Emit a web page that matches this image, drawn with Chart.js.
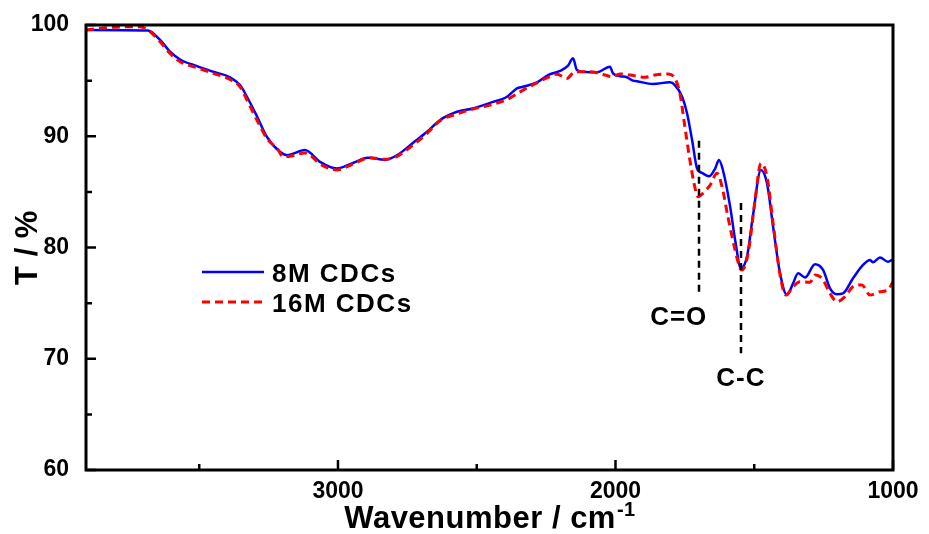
<!DOCTYPE html>
<html>
<head>
<meta charset="utf-8">
<title>FTIR - CDCs</title>
<script src="https://cdn.jsdelivr.net/npm/chart.js@4.4.1/dist/chart.umd.min.js"></script>
<style>
  html, body { margin: 0; padding: 0; background: #fff; }
  #ftirChart { display: block; }
</style>
</head>
<body>
<canvas id="ftirChart" width="929" height="534"></canvas>
<script>
  // Spectrum data: wavenumber (cm-1) and transmittance (%)
  const wn8M = [3908, 3685, 3641, 3605, 3569, 3508, 3450, 3389, 3353, 3328,
    3292, 3256, 3209, 3184, 3119, 3065, 3004, 2946, 2892, 2831,
    2787, 2730, 2679, 2632, 2571, 2514, 2452, 2391, 2355, 2333,
    2283, 2243, 2200, 2171, 2153, 2139, 2117, 2067, 2020, 2009,
    1984, 1959, 1937, 1923, 1865, 1804, 1786, 1760, 1742, 1724,
    1706, 1688, 1663, 1641, 1627, 1613, 1587, 1569, 1548, 1526,
    1505, 1476, 1454, 1432, 1407, 1382, 1360, 1342, 1317, 1281,
    1252, 1227, 1202, 1180, 1144, 1108, 1083, 1072, 1047, 1018, 1000];
  const t8M = [99.55, 99.5, 98.65, 97.6, 96.9, 96.3, 95.8, 95.3, 94.6, 93.55,
    91.8, 89.95, 88.6, 88.3, 88.76, 87.7, 87.1, 87.6, 88.07, 87.87,
    88.3, 89.4, 90.4, 91.46, 92.2, 92.5, 93.0, 93.55, 94.3, 94.45,
    94.85, 95.5, 95.87, 96.35, 97.0, 95.95, 95.8, 95.75, 96.25, 95.65,
    95.4, 95.3, 95.0, 94.95, 94.7, 94.85, 94.6, 93.55, 92.05, 89.66,
    87.1, 86.7, 86.4, 87.1, 87.87, 86.97, 83.7, 80.7, 78.13, 79.2,
    82.8, 86.97, 85.77, 81.87, 77.68, 75.73, 76.78, 77.68, 77.3, 78.5,
    77.98, 76.33, 75.8, 75.88, 77.23, 78.43, 78.88, 78.67, 79.1, 78.72, 78.94];

  const wn16M = [3908, 3811, 3714, 3677, 3641, 3605, 3569, 3508, 3450, 3389,
    3353, 3328, 3292, 3256, 3216, 3198, 3173, 3119, 3058, 3004,
    2946, 2885, 2831, 2787, 2730, 2679, 2632, 2571, 2514, 2452,
    2391, 2333, 2283, 2243, 2211, 2175, 2146, 2092, 2038, 2013,
    1984, 1948, 1894, 1858, 1811, 1786, 1768, 1750, 1732, 1717,
    1703, 1685, 1659, 1634, 1616, 1595, 1569, 1551, 1544, 1522,
    1497, 1476, 1454, 1432, 1407, 1386, 1360, 1335, 1299, 1281,
    1256, 1227, 1202, 1173, 1144, 1112, 1083, 1047, 1018, 1000];
  const t16M = [99.55, 99.8, 99.85, 99.4, 98.5, 97.45, 96.7, 96.16, 95.65, 95.1,
    94.45, 93.26, 91.46, 89.8, 88.8, 88.16, 88.2, 88.5, 87.4, 86.97,
    87.5, 88.07, 87.93, 88.2, 89.2, 90.26, 91.4, 92.0, 92.45, 92.8,
    93.3, 94.15, 94.8, 95.3, 95.57, 95.2, 95.8, 95.8, 95.5, 95.35,
    95.6, 95.5, 95.3, 95.5, 95.6, 95.2, 93.86, 90.86, 87.87, 85.77,
    84.57, 84.87, 85.6, 86.67, 85.47, 82.77, 79.78, 78.13, 77.98, 79.48,
    84.27, 87.57, 86.37, 82.17, 77.53, 75.73, 76.48, 76.93, 76.87, 77.53,
    77.23, 75.88, 75.13, 75.58, 76.48, 76.63, 75.73, 76.03, 76.18, 76.93];

  const seriesLabels = ['8M CDCs', '16M CDCs'];
  const seriesColors = ['#0000ff', '#ff0000'];

  // axis ticks
  const xTicks = [3000, 2000, 1000];
  const xMinorTicks = [3500, 2500, 1500];
  const yTicks = [60, 70, 80, 90, 100];
  const yMinorTicks = [65, 75, 85, 95];

  // peak markers (dashed lines + labels)
  const peakLabels = ['C=O', 'C-C'];
  const peakWn = [1700, 1548];
  const peakTop = [89.6, 84.0];
  const peakBottom = [76.0, 70.5];

  const FONT = '"Liberation Sans", Arial, sans-serif';

  // Draws frame, inward ticks, axis titles, legend and peak markers
  const decorPlugin = {
    id: 'decor',
    afterDatasetsDraw(chart) {
      const { ctx, chartArea: a, scales: { x, y } } = chart;
      ctx.save();

      // peak markers
      ctx.strokeStyle = '#000';
      ctx.lineWidth = 2.5;
      ctx.setLineDash([7, 5]);
      peakWn.forEach((w, i) => {
        const px = Math.round(x.getPixelForValue(w));
        ctx.beginPath();
        ctx.moveTo(px, y.getPixelForValue(peakTop[i]));
        ctx.lineTo(px, y.getPixelForValue(peakBottom[i]));
        ctx.stroke();
      });
      ctx.setLineDash([]);

      ctx.fillStyle = '#000';
      ctx.font = `bold 26px ${FONT}`;
      ctx.letterSpacing = '1px';
      ctx.textAlign = 'center';
      ctx.textBaseline = 'alphabetic';
      peakLabels.forEach((lbl, i) => {
        const px = x.getPixelForValue(peakWn[i]);
        const py = y.getPixelForValue(peakBottom[i]);
        const dx = i === 0 ? -20 : 0; // C=O label sits left of its line
        ctx.fillText(lbl, px + dx, py + 33);
      });

      // frame
      ctx.lineWidth = 3;
      ctx.strokeRect(a.left, a.top, a.right - a.left, a.bottom - a.top);

      // inward ticks
      ctx.lineWidth = 2.5;
      ctx.beginPath();
      yTicks.forEach(v => {
        const py = y.getPixelForValue(v);
        ctx.moveTo(a.left, py); ctx.lineTo(a.left + 10, py);
      });
      yMinorTicks.forEach(v => {
        const py = y.getPixelForValue(v);
        ctx.moveTo(a.left, py); ctx.lineTo(a.left + 6, py);
      });
      xTicks.forEach(v => {
        const px = x.getPixelForValue(v);
        ctx.moveTo(px, a.bottom); ctx.lineTo(px, a.bottom - 10);
      });
      xMinorTicks.forEach(v => {
        const px = x.getPixelForValue(v);
        ctx.moveTo(px, a.bottom); ctx.lineTo(px, a.bottom - 6);
      });
      ctx.stroke();

      // x title with superscript
      ctx.letterSpacing = '0.5px';
      ctx.textAlign = 'left';
      ctx.font = `bold 31px ${FONT}`;
      const main = 'Wavenumber / cm';
      const mainW = ctx.measureText(main).width;
      ctx.font = `bold 20px ${FONT}`;
      const sup = '-1';
      const supW = ctx.measureText(sup).width;
      let sx = (a.left + a.right) / 2 - (mainW + supW) / 2;
      ctx.font = `bold 31px ${FONT}`;
      ctx.fillText(main, sx, 528);
      ctx.font = `bold 20px ${FONT}`;
      ctx.fillText(sup, sx + mainW + 1, 516);

      // y title
      ctx.save();
      ctx.translate(37, (a.top + a.bottom) / 2);
      ctx.rotate(-Math.PI / 2);
      ctx.textAlign = 'center';
      ctx.font = `bold 31px ${FONT}`;
      ctx.fillText('T / %', 0, 0);
      ctx.restore();

      // legend
      const legendY = [272, 302];
      ctx.letterSpacing = '1.5px';
      ctx.font = `bold 26px ${FONT}`;
      ctx.textAlign = 'left';
      seriesLabels.forEach((lbl, i) => {
        ctx.strokeStyle = seriesColors[i];
        ctx.lineWidth = i === 0 ? 2.5 : 3;
        ctx.setLineDash(i === 0 ? [] : [8, 5]);
        ctx.beginPath();
        ctx.moveTo(202, legendY[i]);
        ctx.lineTo(264, legendY[i]);
        ctx.stroke();
        ctx.setLineDash([]);
        ctx.fillText(lbl, 272, legendY[i] + 10);
      });

      ctx.restore();
    }
  };

  const tickFont = { family: FONT, size: 23, weight: 'bold' };

  const ctx = document.getElementById('ftirChart').getContext('2d');
  const chart = new Chart(ctx, {
    type: 'line',
    data: {
      datasets: [
        {
          label: seriesLabels[0],
          data: wn8M.map((w, i) => ({ x: w, y: t8M[i] })),
          borderColor: seriesColors[0],
          borderWidth: 2.5,
          pointRadius: 0,
          cubicInterpolationMode: 'monotone',
          fill: false,
          order: 1,
        },
        {
          label: seriesLabels[1],
          data: wn16M.map((w, i) => ({ x: w, y: t16M[i] })),
          borderColor: seriesColors[1],
          borderWidth: 3,
          borderDash: [8, 5],
          pointRadius: 0,
          cubicInterpolationMode: 'monotone',
          fill: false,
          order: 0,
        },
      ],
    },
    options: {
      responsive: false,
      animation: false,
      layout: { padding: { top: 25, right: 36, left: 0, bottom: 0 } },
      plugins: {
        legend: { display: false },
        tooltip: { enabled: false },
      },
      scales: {
        x: {
          type: 'linear',
          reverse: true,
          min: 1000,
          max: 3908,
          grid: { display: false },
          border: { display: false },
          afterBuildTicks: s => { s.ticks = xTicks.map(v => ({ value: v })); },
          afterFit: s => { s.height = 64; },
          ticks: { color: '#000', font: tickFont, padding: 0, maxRotation: 0, autoSkip: false, callback: v => String(v) },
        },
        y: {
          min: 60,
          max: 100,
          grid: { display: false },
          border: { display: false },
          afterBuildTicks: s => { s.ticks = yTicks.map(v => ({ value: v })); },
          afterFit: s => { s.width = 86; },
          ticks: { color: '#000', font: tickFont, padding: 9, callback: v => String(v) },
        },
      },
    },
    plugins: [decorPlugin],
  });
</script>
</body>
</html>
